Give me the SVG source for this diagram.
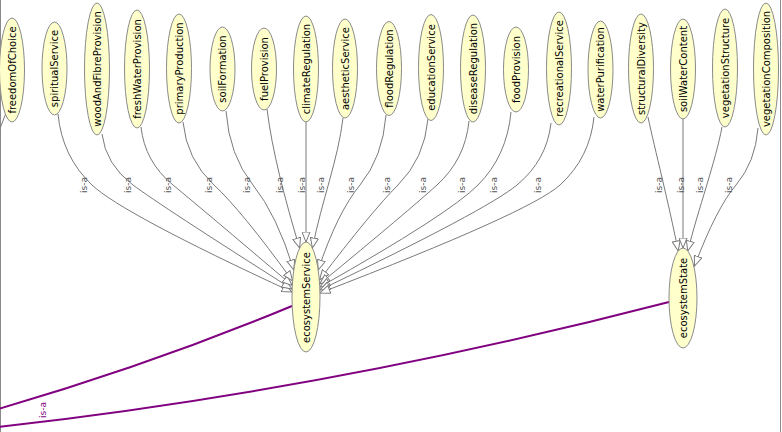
<svg xmlns="http://www.w3.org/2000/svg" width="782" height="432" viewBox="0 0 782 432">
<style>
.n ellipse{fill:#ffffcc;stroke:#8a8a8a;stroke-width:1}
.n text{font-family:"DejaVu Sans",sans-serif;font-size:10px;fill:#000;text-anchor:middle}
.e path{fill:none;stroke:#7a7a7a;stroke-width:1}
.e path.a{marker-end:url(#arr)}
.e path.p{stroke:#800080;stroke-width:2}
.lb{font-family:"DejaVu Sans",sans-serif;font-size:9px;fill:#555;text-anchor:middle}
.lp{fill:#800080}
</style>
<defs>
<marker id="arr" viewBox="0 0 11 9" refX="10.5" refY="4.5" markerWidth="11" markerHeight="9" markerUnits="userSpaceOnUse" orient="auto">
<path d="M0.5,0.5 L10.5,4.5 L0.5,8.5 Z" fill="#fff" stroke="#7a7a7a" stroke-width="1"/>
</marker>
</defs>
<rect x="0" y="0" width="782" height="432" fill="#fff"/>
<line x1="0.5" y1="0" x2="0.5" y2="432" stroke="#8a8a8a"/>
<line x1="780.5" y1="0" x2="780.5" y2="432" stroke="#8a8a8a"/>
<g id="connectors" class="e">
<path d="M6,113 L-1,131"/>
<path class="a" d="M58,114 Q62.1,156.6 92,185 T292,292"/>
<path class="a" d="M102,134 Q105.7,164.6 133,185 T292,289"/>
<path class="a" d="M141,127 Q144.8,161.8 173,185 T292.3,285.5"/>
<path class="a" d="M183,122 Q186.7,159.8 214,185 T292.6,281"/>
<path class="a" d="M226,111 Q229.2,155.4 253,185 T293.8,270"/>
<path class="a" d="M267,109 C272,150 285,200 299.6,248"/>
<path class="a" d="M306,122 L306,242"/>
<path class="a" d="M343,118 C338,160 322,200 312.4,248"/>
<path class="a" d="M386,115 Q382.9,157 360,185 T318.2,270"/>
<path class="a" d="M428,119 Q424.4,158.6 398,185 T319.5,280"/>
<path class="a" d="M469,121 Q465.2,159.4 437,185 T319.7,284"/>
<path class="a" d="M511,112 Q507,155.8 478,185 T319.8,287"/>
<path class="a" d="M551,123 Q546.9,160.2 517,185 T319.9,290"/>
<path class="a" d="M594,117 Q589.9,157.8 560,185 T319.9,293"/>
<path class="a" d="M648,117 C655,150 668,200 678.2,251"/>
<path class="a" d="M683,119 L683,248"/>
<path class="a" d="M722,127 C716,160 698,210 687.8,251"/>
<path class="a" d="M758,128 Q755.4,162.2 736,185 T694.5,266"/>
<path class="p" d="M292,306 Q150,365 -2,409"/>
<path class="p" d="M669,302 Q330,390 -2,427"/>
<g class="lb">
<text transform="translate(86.5,185) rotate(-90)">is-a</text>
<text transform="translate(130.5,185) rotate(-90)">is-a</text>
<text transform="translate(170.5,185) rotate(-90)">is-a</text>
<text transform="translate(211.5,185) rotate(-90)">is-a</text>
<text transform="translate(250,185) rotate(-90)">is-a</text>
<text transform="translate(283,185) rotate(-90)">is-a</text>
<text transform="translate(305,185) rotate(-90)">is-a</text>
<text transform="translate(324,185) rotate(-90)">is-a</text>
<text transform="translate(353.5,185) rotate(-90)">is-a</text>
<text transform="translate(389.5,185) rotate(-90)">is-a</text>
<text transform="translate(426,185) rotate(-90)">is-a</text>
<text transform="translate(465,185) rotate(-90)">is-a</text>
<text transform="translate(497,185) rotate(-90)">is-a</text>
<text transform="translate(541,185) rotate(-90)">is-a</text>
<text transform="translate(661.5,185) rotate(-90)">is-a</text>
<text transform="translate(683.5,185) rotate(-90)">is-a</text>
<text transform="translate(703,185) rotate(-90)">is-a</text>
<text transform="translate(732,185) rotate(-90)">is-a</text>
<text class="lp" transform="translate(46,410) rotate(-90)">is-a</text>
</g>
</g>
<g id="freedomOfChoice" class="n"><ellipse cx="12" cy="70" rx="12.5" ry="52"/><text transform="translate(15.5,70) rotate(-90)">freedomOfChoice</text></g>
<g id="spiritualService" class="n"><ellipse cx="54.5" cy="68.5" rx="12.5" ry="46.5"/><text transform="translate(58,68.5) rotate(-90)">spiritualService</text></g>
<g id="woodAndFibreProvision" class="n"><ellipse cx="97" cy="69" rx="12.5" ry="66"/><text transform="translate(100.5,69) rotate(-90)">woodAndFibreProvision</text></g>
<g id="freshWaterProvision" class="n"><ellipse cx="137" cy="69" rx="12.5" ry="59"/><text transform="translate(140.5,69) rotate(-90)">freshWaterProvision</text></g>
<g id="primaryProduction" class="n"><ellipse cx="179" cy="68.5" rx="12.5" ry="54.5"/><text transform="translate(182.5,68.5) rotate(-90)">primaryProduction</text></g>
<g id="soilFormation" class="n"><ellipse cx="222.5" cy="69" rx="12.5" ry="42"/><text transform="translate(226,69) rotate(-90)">soilFormation</text></g>
<g id="fuelProvision" class="n"><ellipse cx="264" cy="69" rx="12.5" ry="41"/><text transform="translate(267.5,69) rotate(-90)">fuelProvision</text></g>
<g id="climateRegulation" class="n"><ellipse cx="306" cy="69" rx="12.5" ry="53"/><text transform="translate(309.5,69) rotate(-90)">climateRegulation</text></g>
<g id="aestheticService" class="n"><ellipse cx="345" cy="68.5" rx="12.5" ry="49.5"/><text transform="translate(348.5,68.5) rotate(-90)">aestheticService</text></g>
<g id="floodRegulation" class="n"><ellipse cx="389" cy="68.5" rx="12.5" ry="47"/><text transform="translate(392.5,68.5) rotate(-90)">floodRegulation</text></g>
<g id="educationService" class="n"><ellipse cx="431" cy="67.5" rx="12.5" ry="53"/><text transform="translate(434.5,67.5) rotate(-90)">educationService</text></g>
<g id="diseaseRegulation" class="n"><ellipse cx="473" cy="68.5" rx="12.5" ry="53.5"/><text transform="translate(476.5,68.5) rotate(-90)">diseaseRegulation</text></g>
<g id="foodProvision" class="n"><ellipse cx="516" cy="69.5" rx="12.5" ry="42.5"/><text transform="translate(519.5,69.5) rotate(-90)">foodProvision</text></g>
<g id="recreationalService" class="n"><ellipse cx="559" cy="68.5" rx="12.5" ry="56.5"/><text transform="translate(562.5,68.5) rotate(-90)">recreationalService</text></g>
<g id="waterPurification" class="n"><ellipse cx="600.5" cy="69.5" rx="12.5" ry="48.5"/><text transform="translate(604,69.5) rotate(-90)">waterPurification</text></g>
<g id="structuralDiversity" class="n"><ellipse cx="641" cy="68.5" rx="12.5" ry="54.5"/><text transform="translate(644.5,68.5) rotate(-90)">structuralDiversity</text></g>
<g id="soilWaterContent" class="n"><ellipse cx="683" cy="69" rx="12.5" ry="50"/><text transform="translate(686.5,69) rotate(-90)">soilWaterContent</text></g>
<g id="vegetationStructure" class="n"><ellipse cx="725" cy="68" rx="12.5" ry="59"/><text transform="translate(728.5,68) rotate(-90)">vegetationStructure</text></g>
<g id="vegetationComposition" class="n"><ellipse cx="766" cy="69" rx="12.5" ry="66"/><text transform="translate(769.5,69) rotate(-90)">vegetationComposition</text></g>
<g id="ecosystemService" class="n"><ellipse cx="306" cy="297" rx="14" ry="55"/><text transform="translate(309.5,297.5) rotate(-90)">ecosystemService</text></g>
<g id="ecosystemState" class="n"><ellipse cx="683" cy="298" rx="14" ry="50"/><text transform="translate(686.5,298) rotate(-90)">ecosystemState</text></g>
</svg>
